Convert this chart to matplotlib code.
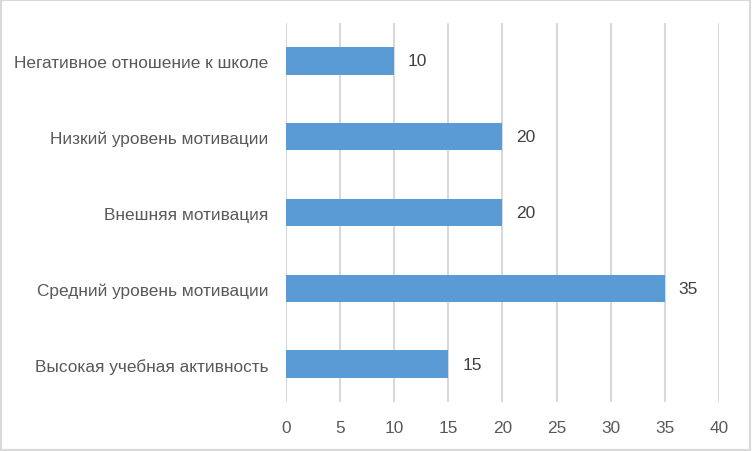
import matplotlib

matplotlib.use("Agg")
import matplotlib.pyplot as plt
from matplotlib.patches import Rectangle

# categories from bottom to top, as drawn
CATEGORIES = [
    "Высокая учебная активность",
    "Средний уровень мотивации",
    "Внешняя мотивация",
    "Низкий уровень мотивации",
    "Негативное отношение к школе",
]
VALUES = [15, 35, 20, 20, 10]
X_TICKS = [0, 5, 10, 15, 20, 25, 30, 35, 40]

BAR_COLOR = "#5B9BD5"
TEXT_COLOR = "#595959"
GRID_COLOR = "#D9D9D9"

plt.rcParams["font.family"] = ["Liberation Sans", "DejaVu Sans"]

fig = plt.figure(figsize=(7.52, 4.52), dpi=100)
fig.patch.set_facecolor("white")
fig.patches.append(
    Rectangle((0.001, 0.002), 0.997, 0.996, transform=fig.transFigure,
              fill=False, edgecolor=GRID_COLOR, linewidth=1.5)
)

ax = fig.add_axes([0.3803, 0.1084, 0.5758, 0.8385])
ypos = list(range(len(CATEGORIES)))
ax.barh(ypos, VALUES, height=0.36, color=BAR_COLOR, zorder=3)

for y, v in zip(ypos, VALUES):
    ax.annotate(f"{v}", xy=(v, y), xytext=(10, 0), textcoords="offset points",
                ha="left", va="center", fontsize=12.5, color="#404040")

ax.set_xlim(0, 40)
ax.set_ylim(-0.5, len(CATEGORIES) - 0.5)
ax.set_xticks(X_TICKS)
ax.set_yticks(ypos)
ax.set_yticklabels(CATEGORIES)
ax.tick_params(axis="both", length=0, labelsize=12.4, colors=TEXT_COLOR)
ax.tick_params(axis="y", pad=12.5)
ax.tick_params(axis="x", pad=13)
ax.grid(axis="x", color=GRID_COLOR, linewidth=1.5, zorder=0)
for spine in ax.spines.values():
    spine.set_visible(False)

fig.savefig("out.png", dpi=100, facecolor="white")
